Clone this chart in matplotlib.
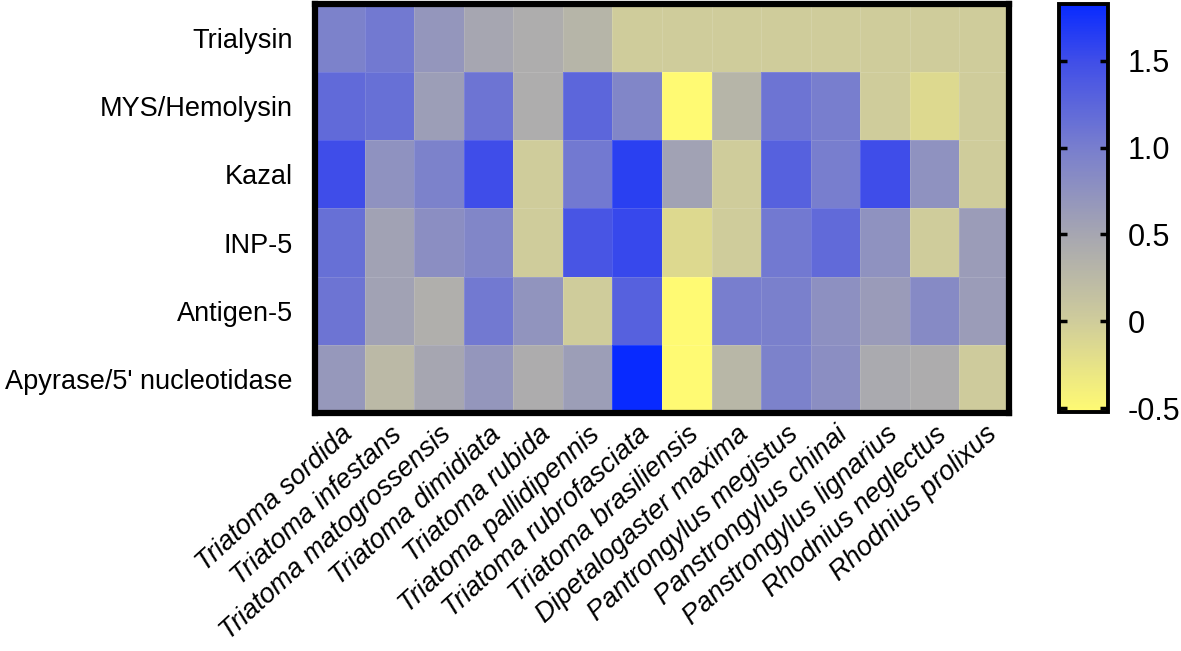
import numpy as np
import matplotlib.pyplot as plt
from matplotlib.colors import LinearSegmentedColormap, Normalize

plt.rcParams['font.family'] = ['Liberation Sans', 'DejaVu Sans']

proteins = ['Trialysin', 'MYS/Hemolysin', 'Kazal', 'INP-5', 'Antigen-5',
            "Apyrase/5' nucleotidase"]

species = ['Triatoma sordida', 'Triatoma infestans', 'Triatoma matogrossensis',
           'Triatoma dimidiata', 'Triatoma rubida', 'Triatoma pallidipennis',
           'Triatoma rubrofasciata', 'Triatoma brasiliensis', 'Dipetalogaster maxima',
           'Pantrongylus megistus', 'Panstrongylus chinai', 'Panstrongylus lignarius',
           'Rhodnius neglectus', 'Rhodnius prolixus']

# values (one list per row)
trialysin = [0.95, 1.05, 0.70, 0.50, 0.40, 0.30, 0.0, 0.0, 0.0, 0.0, 0.0, 0.0, 0.0, 0.0]
mys_hemolysin = [1.20, 1.15, 0.60, 1.10, 0.40, 1.25, 0.90, -0.52, 0.30, 1.10, 1.00, 0.0, -0.15, 0.0]
kazal = [1.50, 0.75, 0.95, 1.50, 0.0, 1.05, 1.62, 0.55, 0.0, 1.30, 1.00, 1.50, 0.75, 0.0]
inp5 = [1.15, 0.55, 0.80, 0.90, 0.0, 1.42, 1.55, -0.15, 0.0, 1.05, 1.20, 0.75, 0.0, 0.62]
antigen5 = [1.10, 0.55, 0.38, 1.05, 0.72, 0.0, 1.30, -0.52, 1.00, 0.97, 0.77, 0.63, 0.85, 0.62]
apyrase = [0.68, 0.25, 0.50, 0.70, 0.42, 0.60, 1.83, -0.52, 0.28, 0.95, 0.80, 0.45, 0.42, 0.02]

data = np.array([trialysin, mys_hemolysin, kazal, inp5, antigen5, apyrase])

vmin, vmax = -0.52, 1.83

# yellow -> beige -> grey -> blue, stops placed at data values
stops = [(-0.52, (255, 250, 115)), (0.0, (207, 204, 155)), (0.5, (166, 166, 177)),
         (1.0, (120, 126, 206)), (1.5, (64, 78, 232)), (1.83, (8, 42, 255))]
cmap = LinearSegmentedColormap.from_list(
    'ylbu', [((v - vmin) / (vmax - vmin), tuple(c / 255 for c in rgb)) for v, rgb in stops])

fig = plt.figure(figsize=(11.81, 6.51), dpi=100)
ax = fig.add_axes([315 / 1181, 1 - 413 / 651, 694 / 1181, 409 / 651])
cax = fig.add_axes([1059 / 1181, 1 - 411.5 / 651, 49 / 1181, 408 / 651])

mesh = ax.pcolormesh(data, cmap=cmap, norm=Normalize(vmin, vmax),
                     edgecolors=(1, 1, 1, 0.12), linewidth=0.6)
ax.set_xlim(0, len(species))
ax.set_ylim(len(proteins), 0)

ax.set_yticks(np.arange(len(proteins)) + 0.5)
ax.set_yticklabels(proteins, fontsize=19.5)
ax.set_xticks(np.arange(len(species)) + 0.5)
ax.set_xticklabels(species, fontsize=19.5, style='italic', rotation=42.5,
                   ha='right', va='top', rotation_mode='anchor')
ax.tick_params(axis='both', length=0)
ax.tick_params(axis='y', pad=16)
ax.tick_params(axis='x', pad=6)
for s in ax.spines.values():
    s.set_linewidth(4.5)

cb = fig.colorbar(mesh, cax=cax)
cb.set_ticks([-0.5, 0, 0.5, 1.0, 1.5])
cb.set_ticklabels(['-0.5', '0', '0.5', '1.0', '1.5'])
cb.outline.set_linewidth(2.8)
cax.tick_params(axis='y', direction='in', length=6, width=2.5, labelsize=22,
                left=True, right=True, pad=14)

fig.savefig('out.png', dpi=100)
